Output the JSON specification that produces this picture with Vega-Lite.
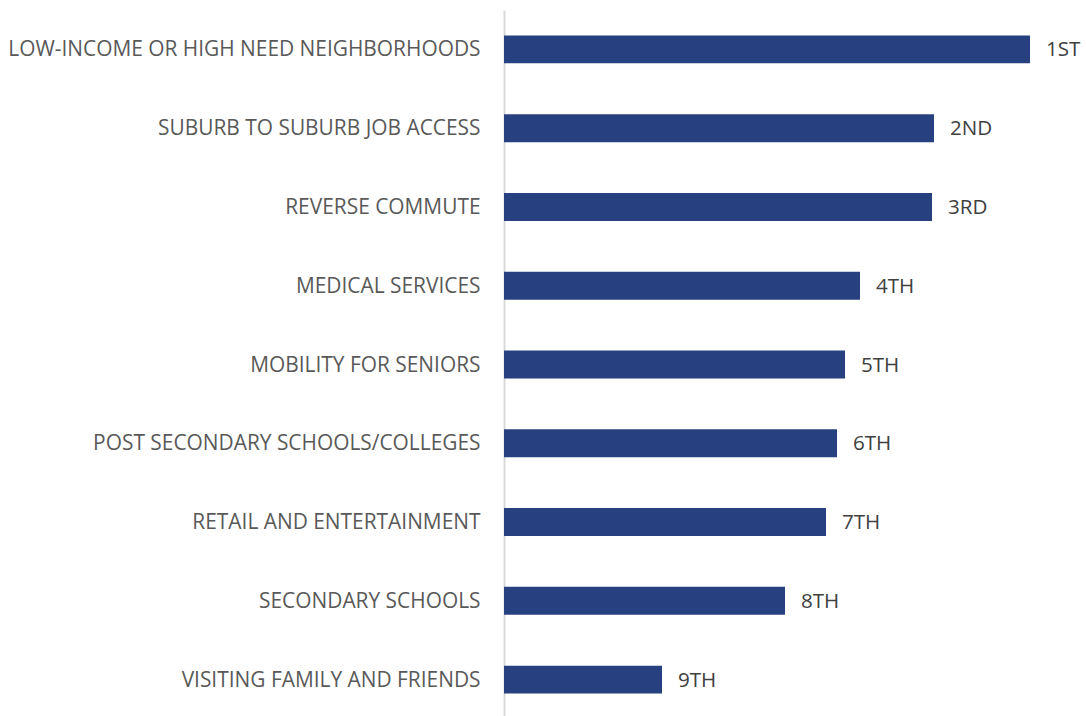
{
  "$schema": "https://vega.github.io/schema/vega-lite/v6.json",
  "width": 526,
  "height": 709,
  "autosize": "none",
  "padding": {"left": 504, "top": 10, "right": 56, "bottom": 0},
  "background": "white",
  "config": {"view": {"stroke": null}, "font": "Open Sans"},
  "data": {"values": [
    {"category": "LOW-INCOME OR HIGH NEED NEIGHBORHOODS", "value": 526, "rank": "1ST"},
    {"category": "SUBURB TO SUBURB JOB ACCESS", "value": 430, "rank": "2ND"},
    {"category": "REVERSE COMMUTE", "value": 428, "rank": "3RD"},
    {"category": "MEDICAL SERVICES", "value": 356, "rank": "4TH"},
    {"category": "MOBILITY FOR SENIORS", "value": 341, "rank": "5TH"},
    {"category": "POST SECONDARY SCHOOLS/COLLEGES", "value": 333, "rank": "6TH"},
    {"category": "RETAIL AND ENTERTAINMENT", "value": 322, "rank": "7TH"},
    {"category": "SECONDARY SCHOOLS", "value": 281, "rank": "8TH"},
    {"category": "VISITING FAMILY AND FRIENDS", "value": 158, "rank": "9TH"}
  ]},
  "encoding": {
    "y": {"field": "category", "type": "nominal", "sort": null,
      "scale": {"paddingInner": 0.645, "paddingOuter": 0.3225},
      "axis": {"title": null, "ticks": false, "domainColor": "#d9d9d9", "domainWidth": 2,
        "labelPadding": 24, "labelFontSize": 20.9, "labelColor": "#595959", "labelLimit": 0, "labelFont": "Open Sans", "labelOffset": 1}},
    "x": {"field": "value", "type": "quantitative", "scale": {"domain": [0, 526], "nice": false}, "axis": null}
  },
  "layer": [
    {"mark": {"type": "bar", "color": "#27407F"}},
    {"mark": {"type": "text", "align": "left", "dx": 16, "dy": 1, "fontSize": 20.6, "color": "#404040", "font": "Open Sans"},
      "encoding": {"text": {"field": "rank"}}}
  ]
}
